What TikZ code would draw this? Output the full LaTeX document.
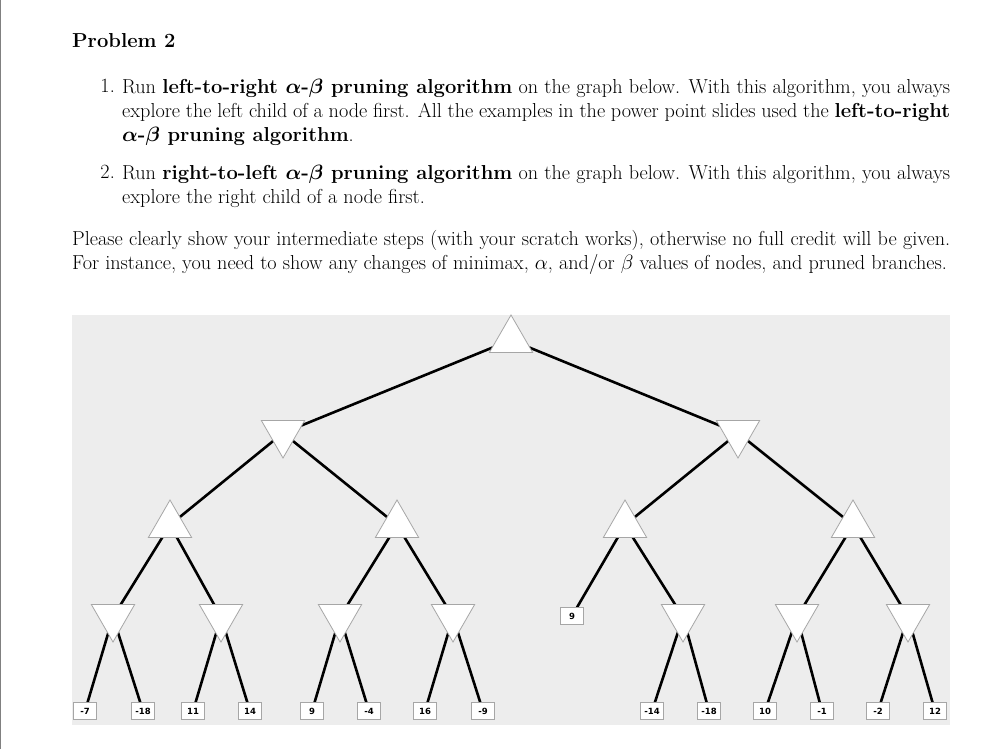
\documentclass[tikz,border=0pt]{standalone}
\usepackage{amsmath}
\usepackage{fontspec}
\newfontfamily\leaffont{DejaVu Sans}
\usetikzlibrary{shapes.geometric}
\begin{document}
\begin{tikzpicture}[x=1pt,y=-1pt,
  maxn/.style={draw=gray!70,fill=white,line width=0.8pt,regular polygon,regular polygon sides=3,minimum size=50pt,inner sep=0pt},
  minn/.style={maxn,shape border rotate=180},
  leaf/.style={draw=gray!70,fill=white,line width=0.8pt,minimum width=23pt,minimum height=17pt,inner sep=0pt,font=\leaffont\bfseries\fontsize{8.5}{9}\selectfont},
  edge/.style={line width=2.6pt,black},
  txt/.style={anchor=north west,inner sep=0pt,align=justify,font=\fontsize{20.2}{24}\selectfont}]
\useasboundingbox (0,0) rectangle (1000,749);
\fill[white] (0,0) rectangle (1000,749);
\draw[gray,line width=1pt] (0.5,0) -- (0.5,749);
\node[txt,font=\bfseries\fontsize{20.2}{24}\selectfont] (title) at (72,33) {Problem 2};
\node[txt,text width=828pt] (i1) at (122,79) {Run \textbf{left-to-right $\boldsymbol{\alpha}$-$\boldsymbol{\beta}$ pruning algorithm} on the graph below. With this algorithm, you always explore the left child of a node first. All the examples in the power point slides used the \textbf{left-to-right $\boldsymbol{\alpha}$-$\boldsymbol{\beta}$ pruning algorithm}.};
\node[txt,anchor=north east] (n1) at (115,79) {1.};
\node[txt,text width=828pt] (i2) at (122,165) {Run \textbf{right-to-left $\boldsymbol{\alpha}$-$\boldsymbol{\beta}$ pruning algorithm} on the graph below. With this algorithm, you always explore the right child of a node first.};
\node[txt,anchor=north east] (n2) at (115,165) {2.};
\node[txt,text width=878pt] (p) at (72,230) {Please clearly show your intermediate steps (with your scratch works), otherwise no full credit will be given. For instance, you need to show any changes of minimax, $\alpha$, and/or $\beta$ values of nodes, and pruned branches.};
\fill[gray!14] (72,315) rectangle (950,725);
\coordinate (r) at (511,340);
\coordinate (a) at (283,433); \coordinate (b) at (738,433);
\coordinate (a1) at (170,525); \coordinate (a2) at (397,525);
\coordinate (b1) at (625,525); \coordinate (b2) at (853,525);
\coordinate (c1) at (113,617); \coordinate (c2) at (221,617);
\coordinate (c3) at (340,617); \coordinate (c4) at (453,617);
\coordinate (c6) at (683,617); \coordinate (c7) at (797,617); \coordinate (c8) at (908,617);
\coordinate (l9) at (572,616);
\foreach \n/\x in {L1/85,L2/143,L3/193,L4/250,L5/312,L6/369,L7/425,L8/483,L9/652,L10/709,L11/765,L12/822,L13/878,L14/935}
  \coordinate (\n) at (\x,711);
\foreach \u/\v in {r/a,r/b,a/a1,a/a2,b/b1,b/b2,a1/c1,a1/c2,a2/c3,a2/c4,b1/l9,b1/c6,b2/c7,b2/c8,c1/L1,c1/L2,c2/L3,c2/L4,c3/L5,c3/L6,c4/L7,c4/L8,c6/L9,c6/L10,c7/L11,c7/L12,c8/L13,c8/L14}
  \draw[edge] (\u) -- (\v);
\node[leaf] (l9b) at (l9) {9};
\foreach \n/\v in {L1/-7,L2/-18,L3/11,L4/14,L5/9,L6/-4,L7/16,L8/-9,L9/-14,L10/-18,L11/10,L12/-1,L13/-2,L14/12}
  \node[leaf] (\n b) at (\n) {\v};
\foreach \n in {r,a1,a2,b1,b2} \node[maxn] (\n t) at (\n) {};
\foreach \n in {a,b,c1,c2,c3,c4,c6,c7,c8} \node[minn] (\n t) at (\n) {};
\end{tikzpicture}
\end{document}
